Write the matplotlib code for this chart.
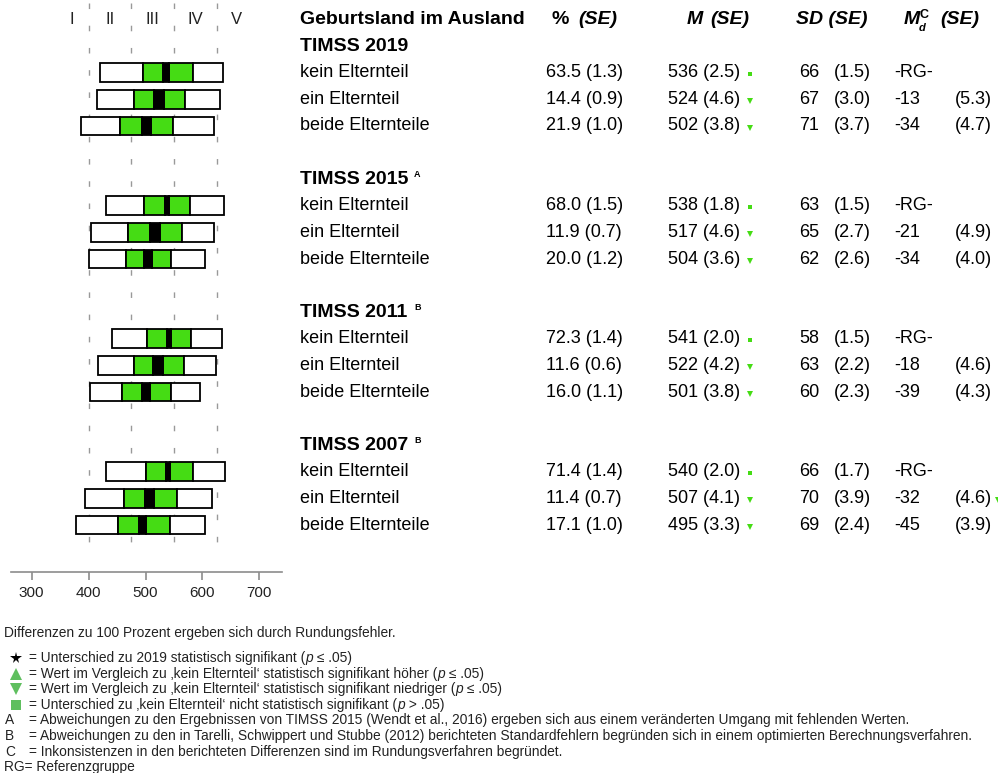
import numpy as np
import matplotlib.pyplot as plt

plt.rcParams['font.family'] = ['Liberation Sans', 'DejaVu Sans']

# --- data ---
cycles = ['TIMSS 2019', 'TIMSS 2015', 'TIMSS 2011', 'TIMSS 2007']
cycle_notes = ['', 'A', 'B', 'B']
groups = ['kein Elternteil', 'ein Elternteil', 'beide Elternteile']

pct = [63.5, 14.4, 21.9, 68.0, 11.9, 20.0, 72.3, 11.6, 16.0, 71.4, 11.4, 17.1]
pct_se = [1.3, 0.9, 1.0, 1.5, 0.7, 1.2, 1.4, 0.6, 1.1, 1.4, 0.7, 1.0]
mean = [536, 524, 502, 538, 517, 504, 541, 522, 501, 540, 507, 495]
mean_se = [2.5, 4.6, 3.8, 1.8, 4.6, 3.6, 2.0, 4.2, 3.8, 2.0, 4.1, 3.3]
sd = [66, 67, 71, 63, 65, 62, 58, 63, 60, 66, 70, 69]
sd_se = [1.5, 3.0, 3.7, 1.5, 2.7, 2.6, 1.5, 2.2, 2.3, 1.7, 3.9, 2.4]
diff = [None, -13, -34, None, -21, -34, None, -18, -39, None, -32, -45]
diff_se = [None, 5.3, 4.7, None, 4.9, 4.0, None, 4.6, 4.3, None, 4.6, 3.9]
# 'ref' = kein Elternteil (square), 'lo' = significantly lower (down triangle)
sig = ['ref', 'lo', 'lo'] * 4

# percentiles 5, 25, 75, 95
p5 = [420, 415, 387, 431, 404, 401, 441, 416, 402, 431, 394, 377]
p25 = [495, 479, 456, 498, 470, 465, 503, 480, 459, 501, 462, 451]
p75 = [583, 570, 548, 579, 564, 545, 580, 567, 544, 584, 555, 543]
p95 = [637, 631, 620, 638, 620, 604, 634, 624, 595, 639, 617, 604]

benchmarks = [400, 475, 550, 625]
levels = ['I', 'II', 'III', 'IV', 'V']
xticks = [300, 400, 500, 600, 700]

# footnotes: list of (text, italic) parts and the leading symbol
notes = [
    ([('Differenzen zu 100 Prozent ergeben sich durch Rundungsfehler.', False)], None),
    ([('= Unterschied zu 2019 statistisch signifikant (', False), ('p', True),
      (' ≤ .05)', False)], 'star'),
    ([('= Wert im Vergleich zu \u201akein Elternteil\u2018 statistisch signifikant höher (', False),
      ('p', True), (' ≤ .05)', False)], 'up'),
    ([('= Wert im Vergleich zu \u201akein Elternteil\u2018 statistisch signifikant niedriger (', False),
      ('p', True), (' ≤ .05)', False)], 'down'),
    ([('= Unterschied zu \u201akein Elternteil\u2018 nicht statistisch signifikant (', False),
      ('p', True), (' > .05)', False)], 'square'),
    ([('= Abweichungen zu den Ergebnissen von TIMSS 2015 (Wendt et al., 2016) ergeben sich aus einem veränderten Umgang mit fehlenden Werten.', False)], 'A'),
    ([('= Abweichungen zu den in Tarelli, Schwippert und Stubbe (2012) berichteten Standardfehlern begründen sich in einem optimierten Berechnungsverfahren.', False)], 'B'),
    ([('= Inkonsistenzen in den berichteten Differenzen sind im Rundungsverfahren begründet.', False)], 'C'),
    ([('RG= Referenzgruppe', False)], None),
]

GREEN = '#45dc14'
LGREEN = '#5fbf5f'
GRAY = '#8c8c8c'

W, H = 998, 773
ROW0, ROWH = 72.8, 26.6


def ypx(k):
    return ROW0 + ROWH * k


fig = plt.figure(figsize=(W / 100, H / 100), dpi=100)
renderer = fig.canvas.get_renderer()

# text layer in pixel coordinates
tx = fig.add_axes([0, 0, 1, 1])
tx.set_xlim(0, W)
tx.set_ylim(H, 0)
tx.axis('off')

# bar layer
bx = fig.add_axes([0, 0, 300 / W, 1])
bx.patch.set_alpha(0)
x0 = 300 - 31.7 / 0.569
bx.set_xlim(x0, x0 + 300 / 0.569)
bx.set_ylim((H - ROW0) / ROWH, -ROW0 / ROWH)
for s in ['top', 'left', 'right']:
    bx.spines[s].set_visible(False)
bx.spines['bottom'].set_position(('data', (571.7 - ROW0) / ROWH))
bx.spines['bottom'].set_bounds(263, 740)
bx.spines['bottom'].set_color(GRAY)
bx.spines['bottom'].set_linewidth(1.2)
bx.set_xticks(xticks)
bx.tick_params(axis='x', direction='out', length=6, width=1.2, color=GRAY,
               labelsize=11, labelcolor='#222222', pad=4)
bx.set_yticks([])

bx.vlines(benchmarks, (3 - ROW0) / ROWH, (553 - ROW0) / ROWH, colors='#999999',
          linestyles=(0, (4, 12)), linewidth=1.0, zorder=0)

edges = [benchmarks[0] - 60] + benchmarks + [benchmarks[-1] + 70]
for i, lab in enumerate(levels):
    bx.text((edges[i] + edges[i + 1]) / 2, -2, lab, ha='center', va='center',
            fontsize=12, color='#222222')

bh = 0.7
for i in range(12):
    c, g = divmod(i, 3)
    k = 5 * c + g
    lo = mean[i] - 1.96 * mean_se[i]
    hi = mean[i] + 1.96 * mean_se[i]
    kw = dict(height=bh, edgecolor='black', linewidth=1.3, zorder=3)
    bx.barh(k, p25[i] - p5[i], left=p5[i], color='white', **kw)
    bx.barh(k, lo - p25[i], left=p25[i], color=GREEN, **kw)
    bx.barh(k, p75[i] - hi, left=hi, color=GREEN, **kw)
    bx.barh(k, p95[i] - p75[i], left=p75[i], color='white', **kw)
    bx.barh(k, hi - lo, left=lo, color='black', **kw)

# table header
FS = 13
FB = 14
hy = ypx(-2)
tx.text(300, hy, 'Geburtsland im Ausland', fontsize=FB, fontweight='bold', va='center')
tx.text(552, hy, '%', fontsize=FB, fontweight='bold', va='center')
tx.text(578, hy, '(SE)', fontsize=FB, fontweight='bold', style='italic', va='center')
tx.text(687, hy, 'M', fontsize=FB, fontweight='bold', style='italic', va='center')
tx.text(710, hy, '(SE)', fontsize=FB, fontweight='bold', style='italic', va='center')
tx.text(796, hy, 'SD (SE)', fontsize=FB, fontweight='bold', style='italic', va='center')
tx.text(904, hy, 'M', fontsize=FB, fontweight='bold', style='italic', va='center')
tx.text(919, hy + 8, 'd', fontsize=8, fontweight='bold', style='italic', va='center')
tx.text(920, hy - 5, 'C', fontsize=9, fontweight='bold', va='center')
tx.text(940, hy, '(SE)', fontsize=FB, fontweight='bold', style='italic', va='center')

for c, name in enumerate(cycles):
    y = ypx(5 * c - 1)
    tx.text(300, y, name, fontsize=FB, fontweight='bold', va='center')
    if cycle_notes[c]:
        tx.text(414, y - 5, cycle_notes[c], fontsize=6.5, fontweight='bold', va='center')

for i in range(12):
    c, g = divmod(i, 3)
    y = ypx(5 * c + g)
    tx.text(300, y, groups[g], fontsize=FS, va='center')
    tx.text(546, y, f'{pct[i]:.1f} ({pct_se[i]:.1f})', fontsize=FS, va='center')
    tx.text(668, y, f'{mean[i]} ({mean_se[i]:.1f})', fontsize=FS, va='center')
    if sig[i] == 'ref':
        tx.plot(750, y + 1, marker='s', ms=3.5, color=GREEN, mew=0)
    else:
        tx.plot(750, y + 2, marker='v', ms=4.5, color=GREEN, mew=0)
    tx.text(799, y, f'{sd[i]}', fontsize=FS, va='center')
    tx.text(834, y, f'({sd_se[i]:.1f})', fontsize=FS, va='center')
    if diff[i] is None:
        tx.text(894, y, '-RG-', fontsize=FS, va='center')
    else:
        tx.text(894, y, f'{diff[i]}', fontsize=FS, va='center')
        tx.text(955, y, f'({diff_se[i]:.1f})', fontsize=FS, va='center')
        if c == 3 and g == 1:
            tx.plot(998, y + 2, marker='v', ms=4.5, color=GREEN, mew=0, clip_on=False)

# footnotes
FN = 9.9
note_y = [632.7, 658, 673.6, 689.2, 704.8, 720.4, 736, 751.6, 767.2]


def rich_text(x, y, parts):
    for s, it in parts:
        t = tx.text(x, y, s, fontsize=FN, va='center', color='#222222',
                    style='italic' if it else 'normal')
        x += t.get_window_extent(renderer).width


for (parts, sym), y in zip(notes, note_y):
    if sym is None:
        rich_text(4, y, parts)
        continue
    rich_text(29, y, parts)
    if sym == 'star':
        tx.plot(16, y, marker='*', ms=8.5, color='black', mew=0)
    elif sym == 'up':
        tx.plot(16, y, marker='^', ms=8, color=LGREEN, mew=0)
    elif sym == 'down':
        tx.plot(16, y, marker='v', ms=8, color=LGREEN, mew=0)
    elif sym == 'square':
        tx.plot(16, y, marker='s', ms=7, color=LGREEN, mew=0)
    else:
        tx.text(5, y, sym, fontsize=FN, va='center', color='#222222')

fig.savefig('out.png', dpi=100)
